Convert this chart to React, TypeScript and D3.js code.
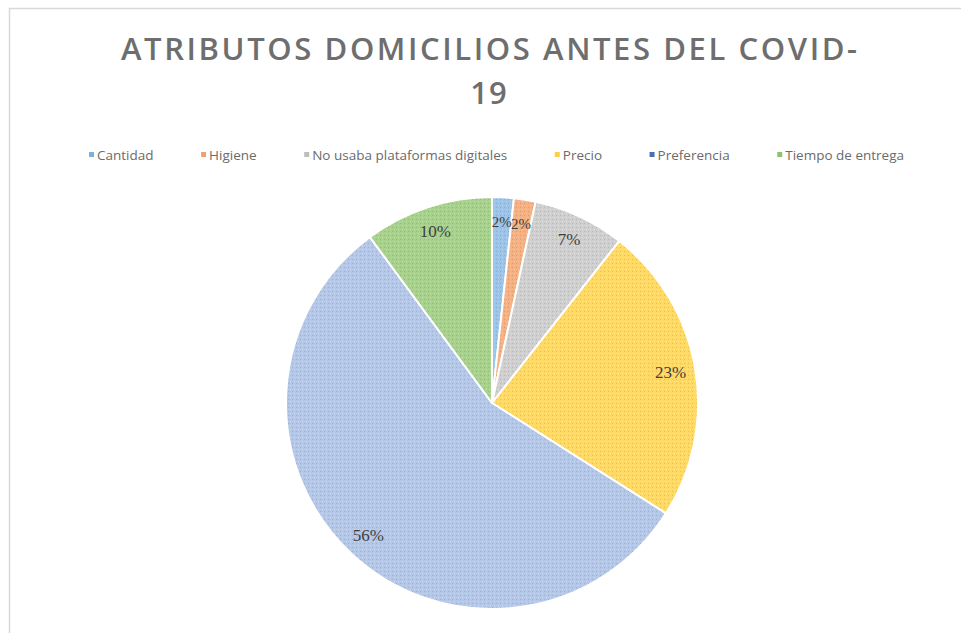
import React, { useEffect, useRef } from 'react';
import * as d3 from 'd3';

const WIDTH = 961;
const HEIGHT = 633;

const categories = [
  'Cantidad',
  'Higiene',
  'No usaba plataformas digitales',
  'Precio',
  'Preferencia',
  'Tiempo de entrega',
];
const shares = [1.7, 1.7, 7.2, 23.4, 55.9, 10.1];
const sliceColors = ['#9dc3e6', '#f4b183', '#cfcfcf', '#ffd966', '#b4c7e7', '#a9d18e'];
const legendColors = ['#7fb0dd', '#f0a070', '#bdbdbd', '#ffcf40', '#4a6fb5', '#8fc46e'];
const titleLines = ['ATRIBUTOS DOMICILIOS ANTES DEL COVID-', '19'];

const App: React.FC = () => {
  const ref = useRef<SVGSVGElement>(null);

  useEffect(() => {
    const svg = d3.select(ref.current);
    svg.selectAll('*').remove();

    // chart frame (only top and left edges are visible in the crop)
    svg
      .append('rect')
      .attr('x', 9.5)
      .attr('y', 8.5)
      .attr('width', WIDTH + 20)
      .attr('height', HEIGHT + 20)
      .attr('fill', '#fff')
      .attr('stroke', '#d9d9d9')
      .attr('stroke-width', 1.5);

    // dotted texture like the excel pattern fill
    const defs = svg.append('defs');
    sliceColors.forEach((c, i) => {
      const p = defs
        .append('pattern')
        .attr('id', `pat-${i}`)
        .attr('width', 4)
        .attr('height', 4)
        .attr('patternUnits', 'userSpaceOnUse');
      p.append('rect').attr('width', 4).attr('height', 4).attr('fill', c);
      p.append('rect')
        .attr('x', 0)
        .attr('y', 0)
        .attr('width', 1)
        .attr('height', 1)
        .attr('fill', d3.color(c)!.darker(0.35).formatHex());
      p.append('rect')
        .attr('x', 2)
        .attr('y', 2)
        .attr('width', 1)
        .attr('height', 1)
        .attr('fill', d3.color(c)!.brighter(0.25).formatHex());
    });

    // title
    const title = svg
      .append('text')
      .attr('text-anchor', 'middle')
      .attr('fill', '#6e6e6e')
      .style('font-family', '"Open Sans", sans-serif')
      .style('font-weight', 600)
      .style('font-size', '31px');
    title
      .append('tspan')
      .attr('x', 489)
      .attr('y', 60)
      .attr('textLength', 736)
      .attr('lengthAdjust', 'spacing')
      .text(titleLines[0]);
    title.append('tspan').attr('x', 489).attr('y', 104).attr('letter-spacing', 1).text(titleLines[1]);

    // legend
    const legend = svg.append('g').attr('transform', 'translate(0,155)');
    const items = legend
      .selectAll('g')
      .data(categories)
      .join('g');
    items
      .append('rect')
      .attr('y', -3)
      .attr('width', 5)
      .attr('height', 5)
      .attr('fill', (_, i) => legendColors[i]);
    items
      .append('text')
      .attr('x', 8)
      .attr('dy', '0.35em')
      .attr('fill', '#6b6b6b')
      .style('font-family', '"Open Sans", sans-serif')
      .style('font-size', '13.5px')
      .text((d) => d);

    const widths: number[] = [];
    items.each(function () {
      widths.push(8 + (d3.select(this).select('text').node() as SVGTextElement).getComputedTextLength());
    });
    const left = 89;
    const right = 904;
    const gap = (right - left - d3.sum(widths)) / (categories.length - 1);
    let cx = left;
    items.attr('transform', (_, i) => {
      const t = `translate(${cx},0)`;
      cx += widths[i] + gap;
      return t;
    });

    // pie
    const radius = 206;
    const g = svg.append('g').attr('transform', 'translate(492,403)');
    const pie = d3
      .pie<number>()
      .sort(null)
      .value((d) => d);
    const arcs = pie(shares);
    const arc = d3.arc<d3.PieArcDatum<number>>().innerRadius(0).outerRadius(radius);
    const labelArc = d3
      .arc<d3.PieArcDatum<number>>()
      .innerRadius(radius * 0.88)
      .outerRadius(radius * 0.88);
    const total = d3.sum(shares);

    g.selectAll('path')
      .data(arcs)
      .join('path')
      .attr('d', arc)
      .attr('fill', (_, i) => `url(#pat-${i})`)
      .attr('stroke', '#fff')
      .attr('stroke-width', 2)
      .attr('stroke-linejoin', 'round');

    g.selectAll('text.lbl')
      .data(arcs)
      .join('text')
      .attr('class', 'lbl')
      .attr('transform', (d) => `translate(${labelArc.centroid(d)})`)
      .attr('text-anchor', 'middle')
      .attr('dy', '0.35em')
      .attr('fill', '#404040')
      .style('font-family', '"Liberation Serif", serif')
      .style('font-size', (d) => (d.value / total < 0.03 ? '15px' : '17px'))
      .text((d) => `${Math.round((d.value / total) * 100)}%`);
  }, []);

  return (
    <svg
      ref={ref}
      width={WIDTH}
      height={HEIGHT}
      style={{ position: 'absolute', left: 0, top: 0, background: '#fff' }}
    />
  );
};

export default App;
